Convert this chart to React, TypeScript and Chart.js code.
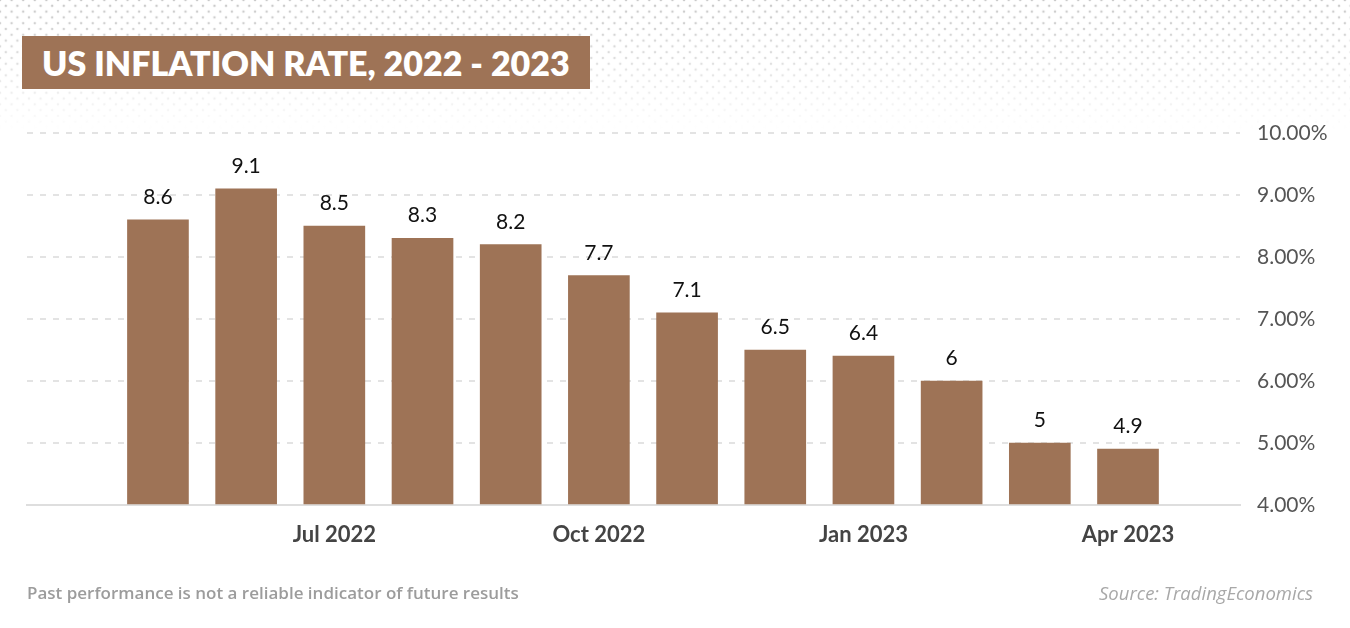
import React, { useEffect, useRef } from "react";
import { Chart, registerables } from "chart.js";

Chart.register(...registerables);

const months = [
  "May 2022", "Jun 2022", "Jul 2022", "Aug 2022", "Sep 2022", "Oct 2022",
  "Nov 2022", "Dec 2022", "Jan 2023", "Feb 2023", "Mar 2023", "Apr 2023",
];
const inflation = [8.6, 9.1, 8.5, 8.3, 8.2, 7.7, 7.1, 6.5, 6.4, 6, 5, 4.9];
const xTickLabels = ["Jul 2022", "Oct 2022", "Jan 2023", "Apr 2023"];
const yTicks = [4, 5, 6, 7, 8, 9, 10];

const FONT = "Lato";
const BROWN = "#9E7356";

export default function App() {
  const canvasRef = useRef<HTMLCanvasElement | null>(null);

  useEffect(() => {
    document.body.style.margin = "0";
    document.body.style.background = "#ffffff";
    const canvas = canvasRef.current;
    if (!canvas) return;

    const tickIdx = xTickLabels.map((l) => months.indexOf(l));

    const valueLabels = {
      id: "valueLabels",
      afterDatasetsDraw(chart: any) {
        const ctx = chart.ctx;
        const meta = chart.getDatasetMeta(0);
        ctx.save();
        ctx.font = `400 21px ${FONT}`;
        ctx.fillStyle = "#111111";
        ctx.textAlign = "center";
        ctx.textBaseline = "alphabetic";
        meta.data.forEach((bar: any, i: number) => {
          ctx.fillText(String(inflation[i]), bar.x, bar.y - 16);
        });
        ctx.restore();
      },
    };

    const chart = new Chart(canvas, {
      type: "bar",
      data: {
        datasets: [
          {
            data: inflation.map((v, i) => ({ x: i, y: v })),
            backgroundColor: BROWN,
            barThickness: 61,
            base: yTicks[0],
          } as any,
        ],
      },
      options: {
        animation: false,
        responsive: false,
        maintainAspectRatio: false,
        layout: { padding: { left: 27, right: 0, top: 133, bottom: 63 } },
        plugins: {
          legend: { display: false },
          tooltip: { enabled: false },
        },
        scales: {
          x: {
            type: "linear",
            offset: false,
            min: -1.485,
            max: 12.27,
            grid: { display: false, drawTicks: false, offset: false },
            border: { display: true, color: "#dedede", width: 2 },
            afterBuildTicks: (s: any) => {
              s.ticks = tickIdx.map((v) => ({ value: v }));
            },
            afterFit: (s: any) => {
              s.height = 60;
            },
            ticks: {
              autoSkip: false,
              maxRotation: 0,
              padding: 17,
              color: "#444444",
              font: { family: FONT, size: 22, weight: "bold" },
              callback: (v: any) => months[Number(v)] ?? "",
            },
          },
          y: {
            position: "right",
            min: yTicks[0],
            max: yTicks[yTicks.length - 1],
            afterBuildTicks: (s: any) => {
              s.ticks = yTicks.map((v) => ({ value: v }));
            },
            afterFit: (s: any) => {
              s.width = 110;
            },
            grid: { color: "#e3e3e3", lineWidth: 2, drawTicks: false },
            border: { display: false, dash: [6, 7] },
            ticks: {
              padding: 17,
              color: "#555555",
              font: { family: FONT, size: 21 },
              callback: (v: any) => Number(v).toFixed(2) + "%",
            },
          },
        },
      },
      plugins: [valueLabels],
    });

    return () => chart.destroy();
  }, []);

  const dots = "radial-gradient(circle, #c9c9c9 1.1px, rgba(255,255,255,0) 1.6px)";

  return (
    <div style={{ position: "relative", width: 1350, height: 628, overflow: "hidden", background: "#fff", fontFamily: FONT }}>
      <div
        style={{
          position: "absolute", left: 0, top: 0, width: 1350, height: 135,
          backgroundImage: `${dots}, ${dots}`,
          backgroundSize: "11.6px 11.6px, 11.6px 11.6px",
          backgroundPosition: "0px 0px, 5.8px 5.8px",
          WebkitMaskImage: "linear-gradient(to bottom, rgba(0,0,0,1) 0px, rgba(0,0,0,0.6) 60px, rgba(0,0,0,0) 130px)",
          maskImage: "linear-gradient(to bottom, rgba(0,0,0,1) 0px, rgba(0,0,0,0.6) 60px, rgba(0,0,0,0) 130px)",
        }}
      />
      <canvas ref={canvasRef} width={1350} height={628} style={{ position: "absolute", left: 0, top: 0, width: 1350, height: 628 }} />
      <div
        style={{
          position: "absolute", left: 22, top: 36, height: 53, width: 568, boxSizing: "border-box",
          background: BROWN, color: "#fff", fontWeight: 800, fontSize: 34, lineHeight: "53px",
          paddingLeft: 20, whiteSpace: "nowrap",
        }}
      >
        US INFLATION RATE, 2022 - 2023
      </div>
      <div style={{ position: "absolute", left: 27, top: 581, fontFamily: "Open Sans", fontSize: 17, fontWeight: 600, color: "#9c9c9c", whiteSpace: "nowrap" }}>
        Past performance is not a reliable indicator of future results
      </div>
      <div style={{ position: "absolute", right: 37, top: 580, fontFamily: "Open Sans", fontSize: 18.5, fontStyle: "italic", color: "#a8a8a8", whiteSpace: "nowrap" }}>
        Source: TradingEconomics
      </div>
    </div>
  );
}
